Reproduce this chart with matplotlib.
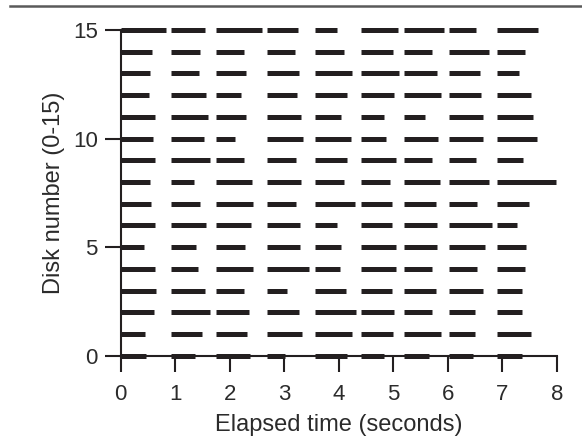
import numpy as np
import matplotlib
matplotlib.use('Agg')
import matplotlib.pyplot as plt
from matplotlib.lines import Line2D

plt.rcParams['font.family'] = ['Liberation Sans', 'DejaVu Sans']

# start of each burst (seconds), same for every disk
seg_start = [0.0, 0.92, 1.74, 2.68, 3.57, 4.41, 5.20, 6.02, 6.90]

# end of each burst (seconds), one row per disk 0..15
seg_end = [
    [0.46, 1.37, 2.37, 3.02, 4.15, 4.83, 5.66, 6.46, 7.36],  # 0
    [0.45, 1.49, 2.32, 3.33, 4.24, 5.00, 5.88, 6.50, 7.52],  # 1
    [0.61, 1.64, 2.35, 3.28, 4.31, 5.02, 5.71, 6.51, 7.37],  # 2
    [0.64, 1.54, 2.27, 3.05, 4.13, 4.98, 5.79, 6.64, 7.36],  # 3
    [0.63, 1.42, 2.42, 3.46, 4.02, 5.05, 5.71, 6.54, 7.42],  # 4
    [0.42, 1.38, 2.28, 3.29, 4.05, 5.05, 5.80, 6.68, 7.43],  # 5
    [0.63, 1.56, 2.39, 3.29, 3.96, 4.97, 5.80, 6.81, 7.28],  # 6
    [0.55, 1.46, 2.42, 3.21, 4.30, 4.97, 5.78, 6.54, 7.50],  # 7
    [0.53, 1.35, 2.40, 3.30, 4.10, 4.94, 5.86, 6.76, 7.98],  # 8
    [0.63, 1.63, 2.27, 3.21, 4.15, 5.05, 5.71, 6.52, 7.38],  # 9
    [0.60, 1.52, 2.10, 3.34, 4.22, 4.86, 5.82, 6.65, 7.63],  # 10
    [0.63, 1.61, 2.30, 3.30, 4.04, 4.84, 5.58, 6.64, 7.57],  # 11
    [0.52, 1.56, 2.20, 3.23, 4.15, 5.02, 5.87, 6.61, 7.53],  # 12
    [0.54, 1.44, 2.29, 3.28, 4.24, 5.11, 5.81, 6.59, 7.31],  # 13
    [0.58, 1.46, 2.26, 3.19, 4.10, 5.00, 5.71, 6.76, 7.42],  # 14
    [0.83, 1.55, 2.59, 3.26, 3.96, 5.08, 5.93, 6.52, 7.65],  # 15
]

xticks = [0, 1, 2, 3, 4, 5, 6, 7, 8]
yticks = [0, 5, 10, 15]

ink = '#231f20'
txt = '#2b2b2b'

fig = plt.figure(figsize=(5.82, 4.4), dpi=100)
ax = fig.add_axes([120.7/582, 1-355.7/440, 436/582, 325.7/440])

for disk, ends in enumerate(seg_end):
    ax.hlines([disk]*len(ends), seg_start, ends, colors=ink, linewidth=3.6,
              capstyle='butt', zorder=3, clip_on=False)

ax.set_xlim(0, 8)
ax.set_ylim(0, 15)
ax.set_xticks(xticks)
ax.set_yticks(yticks)
for s in ['top', 'right']:
    ax.spines[s].set_visible(False)
for s in ['left', 'bottom']:
    ax.spines[s].set_linewidth(1.5)
    ax.spines[s].set_color(ink)
ax.tick_params(length=11.5, width=1.5, color=ink, labelsize=16, labelcolor=txt)
ax.tick_params(axis='x', pad=9)
ax.tick_params(axis='y', pad=5)
ax.set_xlabel('Elapsed time (seconds)', fontsize=17, color=txt, labelpad=6)
ax.set_ylabel('Disk number (0-15)', fontsize=17, color=txt, labelpad=6)

# grey rule across the top of the figure
fig.add_artist(Line2D([10/582, 1], [1-6/440, 1-6/440], transform=fig.transFigure,
                      color='#5a5a5a', linewidth=1.8))

fig.savefig('out.png', dpi=100)
